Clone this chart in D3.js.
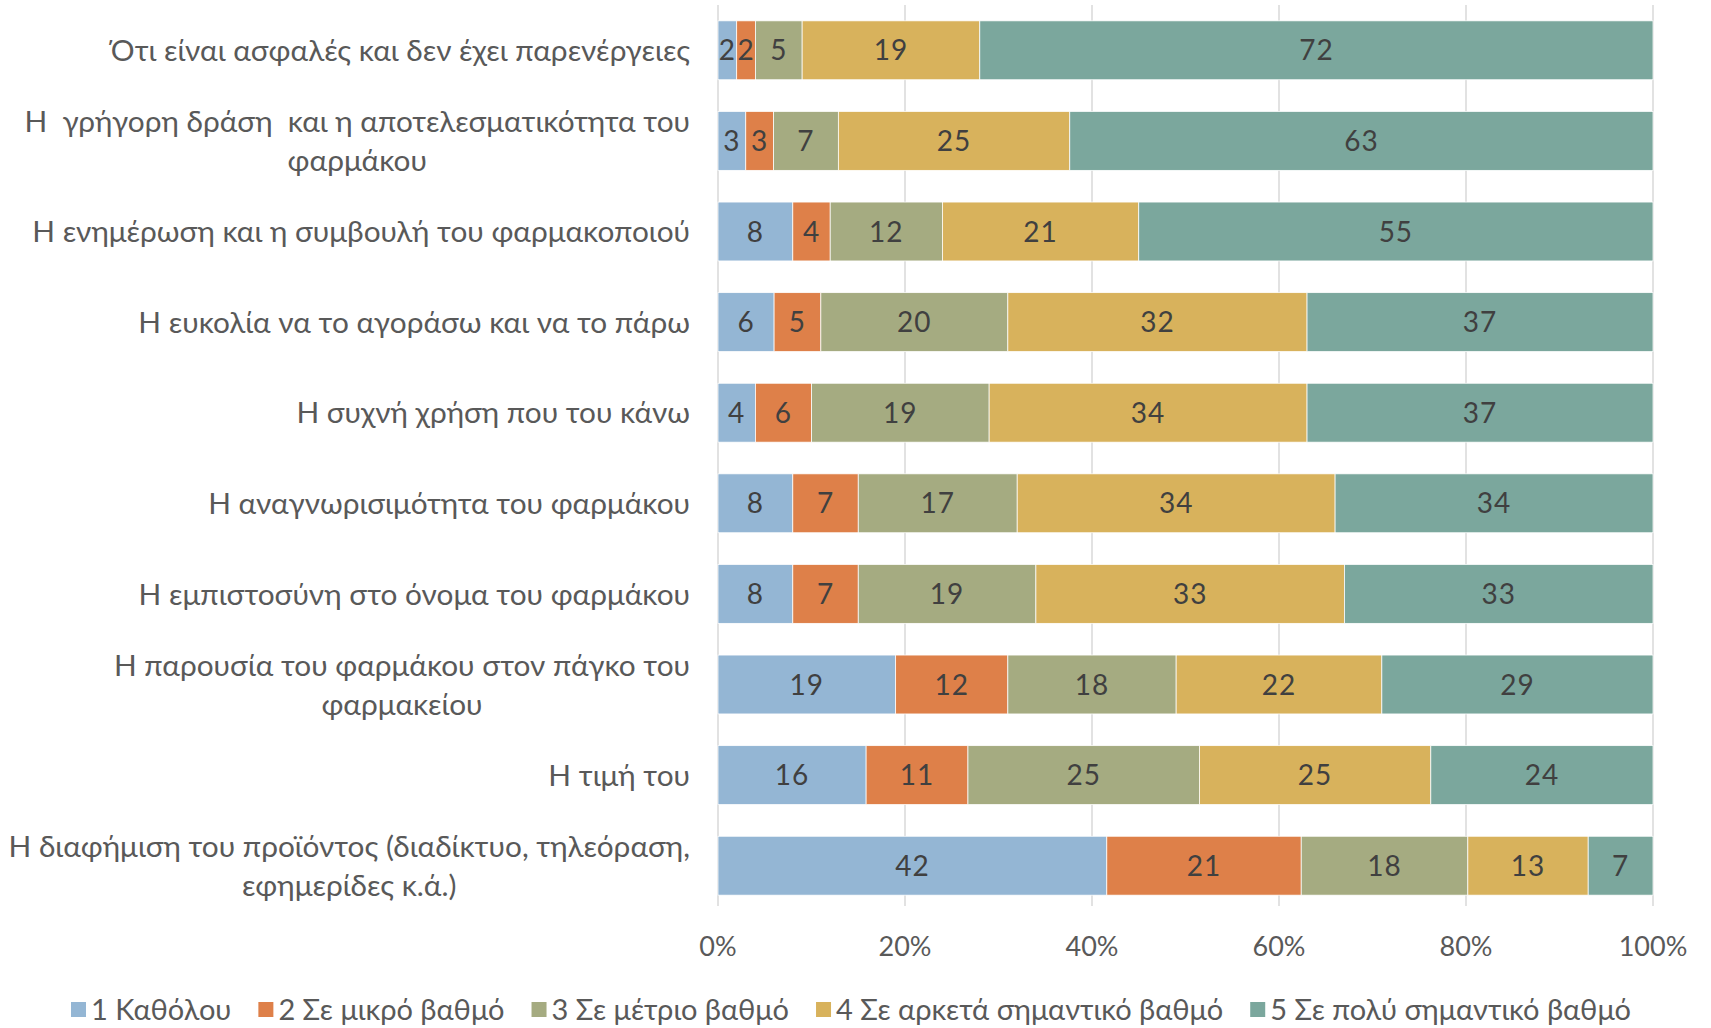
<!DOCTYPE html>
<html>
<head>
<meta charset="utf-8">
<script src="https://cdn.jsdelivr.net/npm/d3@7"></script>
<style>
  body { margin: 0; background: #fff; }
  svg text { white-space: pre; }
</style>
</head>
<body>
<div id="chart"></div>
<script>
// categories, top to bottom (label lines)
var categories = [
  ["Ότι είναι ασφαλές και δεν έχει παρενέργειες"],
  ["Η  γρήγορη δράση  και η αποτελεσματικότητα του", "φαρμάκου"],
  ["Η ενημέρωση και η συμβουλή του φαρμακοποιού"],
  ["Η ευκολία να το αγοράσω και να το πάρω"],
  ["Η συχνή χρήση που του κάνω"],
  ["Η αναγνωρισιμότητα του φαρμάκου"],
  ["Η εμπιστοσύνη στο όνομα του φαρμάκου"],
  ["Η παρουσία του φαρμάκου στον πάγκο του", "φαρμακείου"],
  ["Η τιμή του"],
  ["Η διαφήμιση του προϊόντος (διαδίκτυο, τηλεόραση,", "εφημερίδες κ.ά.)"]
];

var seriesNames = ["1 Καθόλου", "2 Σε μικρό βαθμό", "3 Σε μέτριο βαθμό",
  "4 Σε αρκετά σημαντικό βαθμό", "5 Σε πολύ σημαντικό βαθμό"];

// values per series, in category order
var s1 = [2, 3, 8, 6, 4, 8, 8, 19, 16, 42];
var s2 = [2, 3, 4, 5, 6, 7, 7, 12, 11, 21];
var s3 = [5, 7, 12, 20, 19, 17, 19, 18, 25, 18];
var s4 = [19, 25, 21, 32, 34, 34, 33, 22, 25, 13];
var s5 = [72, 63, 55, 37, 37, 34, 33, 29, 24, 7];

var tickValues = [0, 0.2, 0.4, 0.6, 0.8, 1];

var colors = ["#94B6D4", "#DE8049", "#A5AB81", "#D8B25C", "#7BA79D"];

var W = 1711, H = 1028;
var plotLeft = 718, plotRight = 1653, plotTop = 5, plotBottom = 911;

var svg = d3.select("#chart").append("svg")
  .attr("width", W).attr("height", H);

// build rows for stacking
var allSeries = [s1, s2, s3, s4, s5];
var rows = categories.map(function (c, i) {
  var r = { idx: i };
  allSeries.forEach(function (s, k) { r["s" + k] = s[i]; });
  return r;
});
var keys = ["s0", "s1", "s2", "s3", "s4"];
var stacked = d3.stack().keys(keys).offset(d3.stackOffsetExpand)(rows);

var x = d3.scaleLinear().domain([0, 1]).range([plotLeft, plotRight]);
var y = d3.scaleBand().domain(d3.range(categories.length))
  .range([plotTop, plotBottom]).paddingInner(0.35).paddingOuter(0.175);

// gridlines
svg.append("g").selectAll("line")
  .data(tickValues)
  .enter().append("line")
  .attr("x1", function (d) { return x(d); })
  .attr("x2", function (d) { return x(d); })
  .attr("y1", plotTop)
  .attr("y2", plotBottom - 5)
  .attr("stroke", "#d9d9d9")
  .attr("stroke-width", 1.5);

// bars
var layer = svg.append("g").selectAll("g")
  .data(stacked)
  .enter().append("g")
  .attr("fill", function (d, i) { return colors[i]; });

layer.selectAll("rect")
  .data(function (d) { return d; })
  .enter().append("rect")
  .attr("x", function (d) { return x(d[0]); })
  .attr("width", function (d) { return x(d[1]) - x(d[0]); })
  .attr("y", function (d) { return y(d.data.idx); })
  .attr("height", y.bandwidth())
  .attr("stroke", "#fff")
  .attr("stroke-width", 0.75);

// data labels
layer.each(function (s, k) {
  d3.select(this).selectAll("text")
    .data(s)
    .enter().append("text")
    .attr("x", function (d) { return (x(d[0]) + x(d[1])) / 2; })
    .attr("y", function (d) { return y(d.data.idx) + y.bandwidth() / 2; })
    .attr("dy", "0.36em")
    .attr("text-anchor", "middle")
    .attr("font-family", "Lato, sans-serif")
    .attr("font-size", 28)
    .attr("letter-spacing", 1)
    .attr("fill", "#404040")
    .text(function (d) { return d.data["s" + k]; });
});

// x axis tick labels
svg.append("g").selectAll("text")
  .data(tickValues)
  .enter().append("text")
  .attr("x", function (d) { return x(d); })
  .attr("y", 946)
  .attr("dy", "0.36em")
  .attr("text-anchor", "middle")
  .attr("font-family", "Lato, sans-serif")
  .attr("font-size", 27)
  .attr("fill", "#595959")
  .text(d3.format(".0%"));

// category labels: block right aligned, lines centered within block
var labelRight = 690, lineH = 39;
var cat = svg.append("g").selectAll("g")
  .data(categories)
  .enter().append("g");

cat.each(function (lines, i) {
  var g = d3.select(this);
  var cy = y(i) + y.bandwidth() / 2;
  var y0 = cy - (lines.length - 1) * lineH / 2;
  var t = g.selectAll("text").data(lines).enter().append("text")
    .attr("y", function (d, j) { return y0 + j * lineH; })
    .attr("dy", "0.36em")
    .attr("text-anchor", "middle")
    .attr("font-family", "Lato, sans-serif")
    .attr("font-size", 29.8)
    .attr("fill", "#595959")
    .text(function (d) { return d; });
  var maxW = 0;
  t.each(function () { maxW = Math.max(maxW, this.getComputedTextLength()); });
  t.attr("x", labelRight - maxW / 2);
});

// legend
var legend = svg.append("g");
var lx = 71, ly = 1010;
seriesNames.forEach(function (name, i) {
  var item = legend.append("g");
  item.append("rect")
    .attr("x", lx).attr("y", ly - 8)
    .attr("width", 15).attr("height", 15)
    .attr("fill", colors[i]);
  var txt = item.append("text")
    .attr("x", lx + 20).attr("y", ly)
    .attr("dy", "0.36em")
    .attr("font-family", "Lato, sans-serif")
    .attr("font-size", 29)
    .attr("fill", "#595959")
    .text(name);
  lx += 20 + txt.node().getComputedTextLength() + 27;
});
</script>
</body>
</html>
